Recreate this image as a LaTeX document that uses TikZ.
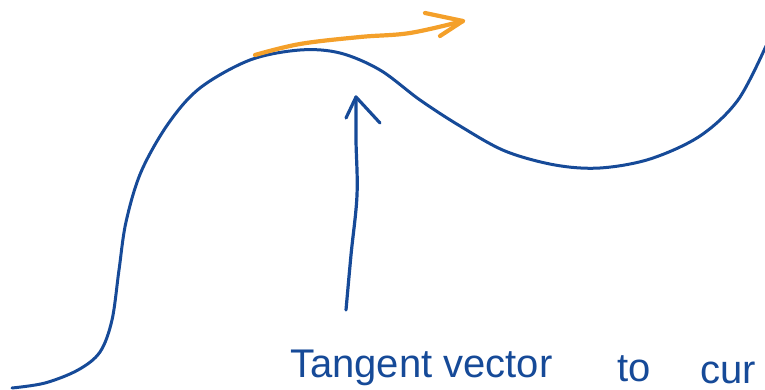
\documentclass[tikz,border=0pt]{standalone}
\usepackage{fontspec}
\setmainfont{Liberation Sans}
\definecolor{inkblue}{RGB}{22,74,152}
\definecolor{inkorange}{RGB}{244,160,42}
\tikzset{
  curveline/.style={draw=inkblue, line width=3pt, line cap=round, line join=round},
  tangentline/.style={draw=inkorange, line width=4.2pt, line cap=round, line join=round},
  pointerline/.style={draw=inkblue, line width=3.2pt, line cap=round, line join=round},
  handtext/.style={text=inkblue, anchor=base west, inner sep=0pt, font=\fontsize{40}{48}\selectfont}
}
\begin{document}
\begin{tikzpicture}[x=1pt,y=-1pt]
\useasboundingbox (0,0) rectangle (765,390);
% curve
\draw[curveline] plot[smooth, tension=0.55] coordinates {
 (12,388) (45,383) (78,370) (100,352) (112,320) (119,270) (126,222)
 (141,172) (168,124) (200,88) (250,60) (300,50) (340,53) (380,70)
 (420,100) (460,126) (505,151) (555,165) (600,168) (650,159) (700,136)
 (738,100) (766,46)};
% tangent arrow
\coordinate (ts) at (255,55);
\coordinate (tt) at (463,21);
\draw[tangentline] plot[smooth, tension=0.6] coordinates {(ts) (300,44) (360,37) (410,33) (tt)};
\draw[tangentline] (425,13) -- (tt) -- (440,36);
% pointer arrow
\coordinate (ps) at (346,310);
\coordinate (pt) at (356,97);
\draw[pointerline] plot[smooth, tension=0.6] coordinates {(ps) (351,255) (357,195) (356,140) (pt)};
\draw[pointerline] (346,118) -- (pt) -- (380,123);
% text
\node[handtext] (w1) at (290,377) {Tangent vector};
\node[handtext] (w2) at (617,381) {to};
\node[handtext] (w3) at (700,383) {cur};
\end{tikzpicture}
\end{document}
